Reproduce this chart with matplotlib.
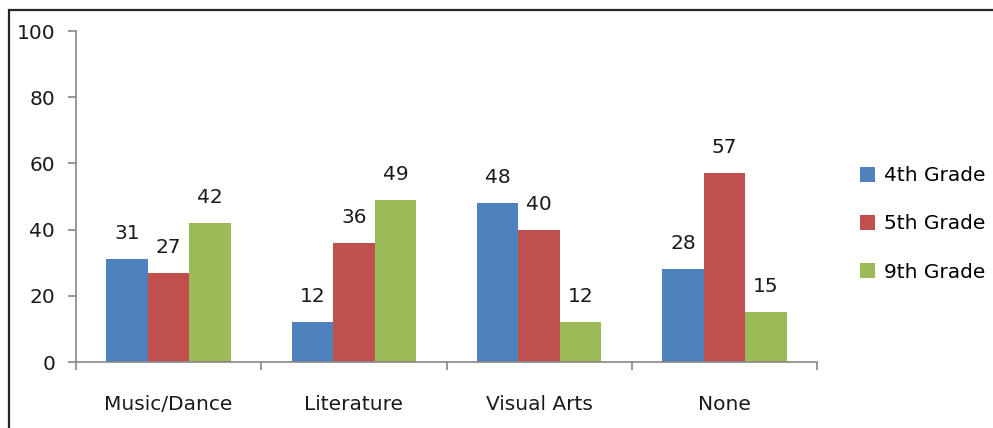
import matplotlib.pyplot as plt
import numpy as np
from matplotlib.patches import Rectangle

categories = ['Music/Dance', 'Literature', 'Visual Arts', 'None']
series_names = ['4th Grade', '5th Grade', '9th Grade']
grade4 = [31, 12, 48, 28]
grade5 = [27, 36, 40, 57]
grade9 = [42, 49, 12, 15]
colors = ['#4F81BD', '#C0504D', '#9BBB59']
yticks = [0, 20, 40, 60, 80, 100]

plt.rcParams['font.family'] = ['DejaVu Sans']
fs = 14.5

W, H = 993, 428
fig = plt.figure(figsize=(W / 100, H / 100), dpi=100)

# plot area in pixels: x 76..817, y 31..362
ax = fig.add_axes([76 / W, 1 - 362 / H, (817 - 76) / W, (362 - 31) / H])

# outer frame (cut off at right and bottom like the reference)
fig.patches.append(Rectangle((9 / W, -0.1), 1.2, 1 - 10 / H + 0.1,
                             transform=fig.transFigure, fill=False,
                             edgecolor='#262626', linewidth=1.6))

x = np.arange(len(categories))
bw = 0.224
gray = '#868686'
for i, (vals, name) in enumerate(zip([grade4, grade5, grade9], series_names)):
    pos = x + (i - 1) * bw
    bars = ax.bar(pos, vals, width=bw, color=colors[i], label=name, zorder=2)
    for b, v in zip(bars, vals):
        ax.annotate(str(v), (b.get_x() + b.get_width() / 2, v),
                    xytext=(0, 11.5), textcoords='offset points',
                    ha='center', va='bottom', fontsize=fs, color='#1a1a1a')

ax.set_xlim(-0.5, len(categories) - 0.5)
ax.set_ylim(0, 100)
ax.set_yticks(yticks)
ax.tick_params(axis='y', length=6, width=1.2, color=gray, labelsize=fs,
               pad=9, labelcolor='#1a1a1a')

ax.set_xticks(np.arange(len(categories) + 1) - 0.5)
ax.set_xticklabels([])
ax.set_xticks(x, minor=True)
ax.set_xticklabels(categories, minor=True)
ax.tick_params(axis='x', which='major', length=6, width=1.2, color=gray)
ax.tick_params(axis='x', which='minor', length=0, labelsize=fs, pad=24,
               labelcolor='#1a1a1a')

for s in ['top', 'right']:
    ax.spines[s].set_visible(False)
for s in ['left', 'bottom']:
    ax.spines[s].set_color(gray)
    ax.spines[s].set_linewidth(1.2)

ax.legend(loc='center left', bbox_to_anchor=(842 / W, 1 - 224 / H),
          bbox_transform=fig.transFigure, frameon=False, fontsize=fs,
          handlelength=0.75, handleheight=0.75, handletextpad=0.45,
          labelspacing=1.45)

fig.savefig('out.png', dpi=100)
